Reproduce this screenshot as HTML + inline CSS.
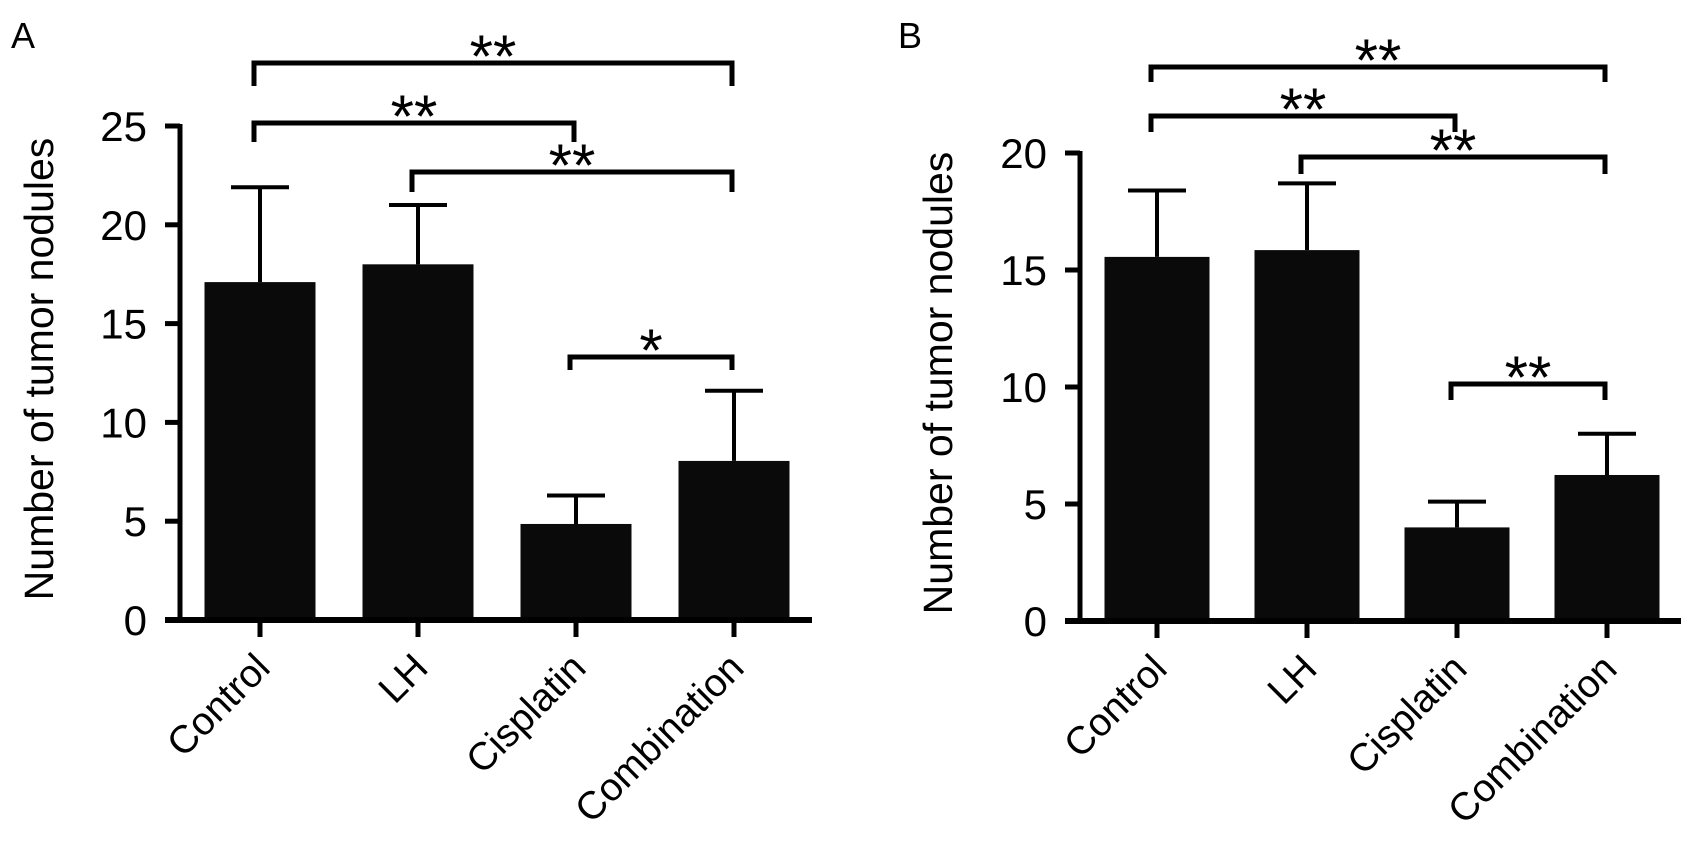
<!DOCTYPE html>
<html><head><meta charset="utf-8"><style>
html,body{margin:0;padding:0;background:#fff;}
svg{display:block;font-family:"Liberation Sans",Arial,sans-serif;}
</style></head><body>
<svg id="fig" width="1696" height="846" viewBox="0 0 1696 846"></svg>
<script>
const categories = ["Control","LH","Cisplatin","Combination"];
const meansA = [17.1, 18.0, 4.86, 8.05];
const errA = [21.9, 21.0, 6.3, 11.6];
const ticksA = [0,5,10,15,20,25];
const meansB = [15.56, 15.85, 4.0, 6.24];
const errB = [18.4, 18.7, 5.1, 8.0];
const ticksB = [0,5,10,15,20];
const sigA = [["**",0,3,63,86],["**",0,2,123,142],["**",1,3,172,192],["*",2,3,357,370]];
const sigB = [["**",0,3,67,82],["**",0,2,116,132],["**",1,3,157,174],["**",2,3,384,400]];

const NS="http://www.w3.org/2000/svg";
const svg=document.getElementById('fig');
function mk(tag,attrs,parent){const e=document.createElementNS(NS,tag);for(const k in attrs)e.setAttribute(k,attrs[k]);(parent||svg).appendChild(e);return e;}

function panel(cfg){
  const g=mk('g',{});
  
  
  const y=v=>cfg.y0-(v/cfg.ymax)*(cfg.y0-cfg.ytop);
  const x=i=>cfg.x0+i*cfg.step;
  const L=mk('text',{x:cfg.letterX,y:48,'font-size':36},g);L.textContent=cfg.letter;
  
  
  cfg.means.forEach((m,i)=>{
    const r=mk('rect',{x:x(i)-cfg.bw/2,y:y(m),width:cfg.bw,height:cfg.y0-y(m),fill:'#0a0a0a'},g);
    
    
    const e=mk('path',{d:`M${x(i)} ${y(m)}V${y(cfg.err[i])}M${x(i)-29} ${y(cfg.err[i])}H${x(i)+29}`,stroke:'#000','stroke-width':4,fill:'none'},g);
    
    
  });
  const ya=mk('line',{x1:cfg.axisX,y1:cfg.ytop-2,x2:cfg.axisX,y2:cfg.y0+2,stroke:'#000','stroke-width':5},g);
  
  
  cfg.ticks.forEach(t=>{
    mk('line',{x1:cfg.axisX-15,y1:y(t),x2:cfg.axisX,y2:y(t),stroke:'#000','stroke-width':5},g);
    const tl=mk('text',{x:cfg.axisX-33,y:y(t)+15,'font-size':42,'text-anchor':'end'},g);
    tl.textContent=t;
    
    
  });
  const xa=mk('line',{x1:cfg.axisX-15,y1:cfg.y0,x2:cfg.xEnd,y2:cfg.y0,stroke:'#000','stroke-width':6},g);
  
  
  categories.forEach((c,i)=>{
    mk('line',{x1:x(i),y1:cfg.y0,x2:x(i),y2:cfg.y0+17,stroke:'#000','stroke-width':5},g);
    const t=mk('text',{x:0,y:0,'font-size':39,'text-anchor':'end',transform:`translate(${x(i)+12},${cfg.y0+50}) rotate(-45)`},g);
    t.textContent=c;
    
    
  });
  const yt=mk('text',{x:0,y:0,'font-size':41,'text-anchor':'middle',transform:`translate(${cfg.titleX},${(cfg.ytop+cfg.y0)/2-4}) rotate(-90)`},g);
  yt.textContent='Number of tumor nodules';
  
  
  cfg.sig.forEach(s=>{
    const xa1=x(s[1])-6, xb=x(s[2])-2;
    const p=mk('path',{d:`M${xa1} ${s[4]}V${s[3]}H${xb}V${s[4]}`,stroke:'#000','stroke-width':5,fill:'none'},g);
    
    
    const st=mk('text',{x:(xa1+xb)/2,y:s[3]+14,'font-size':60,'text-anchor':'middle'},g);
    st.textContent=s[0];
    
    
  });
}
panel({name:'panel-a',letter:'A',letterX:11,means:meansA,err:errA,ticks:ticksA,ymax:25,y0:620,ytop:126,axisX:180,x0:260,step:158,bw:111,xEnd:812,titleX:53,sig:sigA});
panel({name:'panel-b',letter:'B',letterX:898,means:meansB,err:errB,ticks:ticksB,ymax:20,y0:621,ytop:153,axisX:1080,x0:1157,step:150,bw:105,xEnd:1681,titleX:952,sig:sigB});
</script>
</body></html>
